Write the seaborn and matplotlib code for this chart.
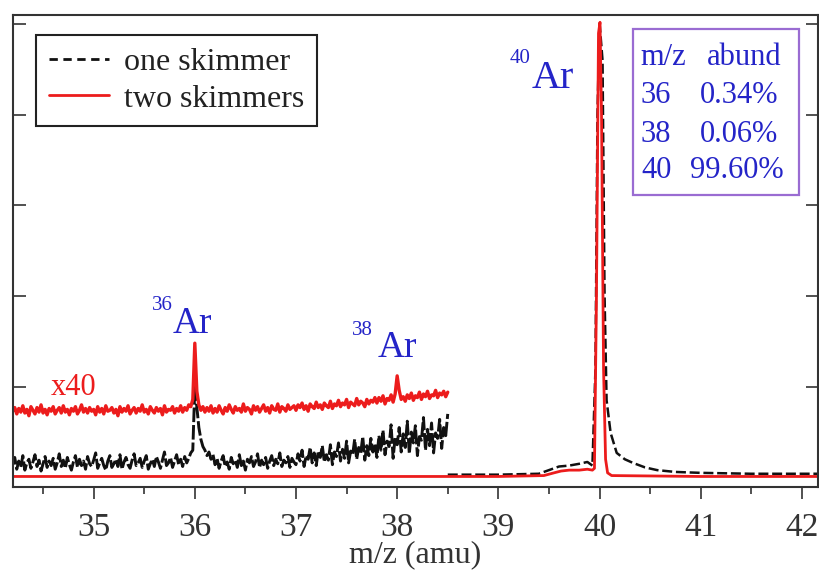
import numpy as np
import pandas as pd
import matplotlib
matplotlib.use("Agg")
import matplotlib.pyplot as plt
import seaborn as sns
from matplotlib.lines import Line2D
from matplotlib.patches import Rectangle

# scaled (x40) part of the spectra, 34.2 .. 38.5 amu, one reading every 0.02 amu,
# values in 1/100 of a y unit
noisy_start = 34.2
noisy_end = 38.5
one_skimmer_x40 = [
    14, 22, 9, 18, 11, 24, 8, 16, 20, 10, 17, 25, 12, 19, 7, 15, 23, 11, 18, 13,
    21, 9, 16, 26, 12, 19, 10, 22, 14, 8, 17, 24, 11, 20, 13, 18, 9, 23, 15, 12,
    19, 27, 10, 16, 21, 13, 8, 18, 24, 11, 15, 20, 12, 25, 9, 17, 22, 14, 10, 19,
    26, 13, 16, 21, 11, 18, 24, 9, 15, 20, 12, 23, 17, 10, 19, 28, 13, 16, 22, 11,
    18, 25, 14, 20, 12, 23, 16, 21, 27, 30,
    100,
    78, 55, 42, 34, 30, 24, 28, 20, 25,
    14, 21, 10, 18, 24, 12, 17, 9, 22, 15, 19, 11, 25, 13, 18, 8, 20, 16, 23, 12,
    17, 26, 11, 19, 14, 22, 10, 18, 24, 13, 20, 15, 27, 12, 19, 16, 23, 11, 21, 17,
    14, 26, 18, 30, 12, 24, 20, 33, 16, 27, 13, 29, 22, 35, 17, 25, 19, 36, 14, 28,
    23, 38, 18, 31, 21, 40, 16, 29, 25, 42, 20, 33, 27, 45, 19, 35, 24, 43, 28, 37,
    22, 46, 30, 52, 25, 40, 34, 58, 21, 44, 36, 55, 28, 48, 33, 62, 26, 50, 38, 57,
    24, 45, 41, 66, 30, 53, 35, 60, 27, 49, 43, 64, 32, 55, 46, 70,
]
two_skimmers_x40 = [
    73, 77, 70, 76, 72, 79, 71, 75, 68, 78, 74, 70, 77, 72, 80, 71, 75, 69, 76, 73,
    78, 70, 74, 77, 71, 79, 72, 75, 69, 76, 73, 78, 70, 74, 80, 72, 76, 71, 77, 73,
    75, 69, 78, 72, 76, 70, 79, 73, 74, 77, 71, 75, 68, 78, 72, 76, 73, 79, 70, 74,
    77, 71, 76, 73, 80, 72, 75, 70, 78, 74, 71, 77, 73, 76, 69, 79, 72, 75, 74, 78,
    71, 76, 73, 79, 72, 77, 74, 80, 78, 86,
    148,
    95, 80, 74, 78, 72, 77, 73, 79, 71,
    76, 72, 79, 74, 70, 77, 73, 80, 75, 71, 78, 74, 76, 72, 81, 73, 77, 75, 70, 79,
    74, 78, 72, 76, 80, 73, 77, 71, 79, 75, 74, 81, 72, 78, 76, 73, 80, 75, 77, 79,
    74, 80, 77, 82, 75, 79, 73, 81, 78, 76, 83, 77, 80, 75, 82, 79, 77, 84, 76, 81,
    79, 85, 78, 82, 80, 86, 77, 83, 81, 79, 87, 80, 84, 82, 78, 86, 81, 85, 83, 88,
    82, 88, 84, 90, 81, 87, 85, 91, 83, 92, 112, 96, 86, 89, 84, 91, 87, 93, 85, 90,
    88, 94, 86, 92, 89, 95, 87, 91, 90, 96, 88, 93, 91, 95, 89, 94,
]

# unscaled spectra
one_mz = [38.5, 39.0, 39.4, 39.5, 39.6, 39.7, 39.8, 39.88, 39.93, 39.96, 39.98, 40.0,
          40.03, 40.05, 40.07, 40.11, 40.17, 40.25, 40.33, 40.45, 40.57, 40.75, 41.0,
          41.5, 42.16]
one_sig = [0.03, 0.03, 0.04, 0.08, 0.12, 0.13, 0.15, 0.17, 0.13, 1.2, 4.0, 5.02,
           4.6, 2.0, 0.85, 0.49, 0.27, 0.2, 0.16, 0.11, 0.08, 0.06, 0.05,
           0.04, 0.04]
two_mz = [34.2, 35.0, 36.0, 37.0, 38.0, 39.0, 39.45, 39.55, 39.62, 39.7, 39.8, 39.88,
          39.93, 39.95, 39.97, 39.99, 40.005, 40.02, 40.04, 40.06, 40.08, 40.12, 41.0,
          42.16]
two_sig = [0.01, 0.01, 0.01, 0.01, 0.01, 0.01, 0.02, 0.05, 0.07, 0.08, 0.08, 0.09,
           0.08, 0.1, 2.0, 4.9, 5.02, 4.0, 1.2, 0.2, 0.05, 0.02, 0.01,
           0.01]

isotopes = ["36", "38", "40"]
abundances = ["0.34%", "0.06%", "99.60%"]

red = "#ec1c1c"
blue = "#2424c8"
purple = "#9a6cd2"

sns.set_style("ticks")
plt.rcParams["font.family"] = ["Liberation Serif", "DejaVu Serif"]

fig = plt.figure(figsize=(8.2, 5.71), dpi=100)
ax = fig.add_axes([0.0155, 0.1476, 0.9821, 0.8261])

x40 = np.linspace(noisy_start, noisy_end, len(one_skimmer_x40))
df_one = pd.DataFrame({"mz": x40, "sig": np.array(one_skimmer_x40) / 100})
x40r = np.linspace(noisy_start, noisy_end, len(two_skimmers_x40))
df_two = pd.DataFrame({"mz": x40r, "sig": np.array(two_skimmers_x40) / 100})

sns.lineplot(data=df_one, x="mz", y="sig", ax=ax, color="#111111", lw=2.1,
             linestyle=(0, (5, 1)), estimator=None, sort=False)
sns.lineplot(x=one_mz, y=one_sig, ax=ax, color="#111111", lw=1.8,
             linestyle=(0, (4, 1.5)), estimator=None, sort=False)
sns.lineplot(data=df_two, x="mz", y="sig", ax=ax, color=red, lw=2.4,
             estimator=None, sort=False)
sns.lineplot(x=two_mz, y=two_sig, ax=ax, color=red, lw=2.0,
             estimator=None, sort=False)

ax.set_xlim(34.2, 42.16)
ax.set_ylim(-0.103, 5.10)
ax.set_xticks(range(35, 43))
ax.set_xticks(np.arange(34.5, 42, 1.0), minor=True)
ax.set_yticks([1, 2, 3, 4, 5])
ax.set_yticklabels([])
ax.set_ylabel("")
ax.tick_params(axis="x", which="major", direction="out", length=8.5, width=1.2,
               labelsize=24, pad=10, colors="#333333", labelcolor="#333333")
ax.tick_params(axis="x", which="minor", direction="out", length=5, width=1.2,
               colors="#333333")
ax.tick_params(axis="y", which="major", direction="in", length=9, width=1.2,
               left=True, right=True, colors="#333333")
for s in ax.spines.values():
    s.set_visible(True)
    s.set_linewidth(1.5)
    s.set_color("#333333")
ax.set_xlabel("m/z (amu)", fontsize=23, color="#333333", labelpad=-2)

# isotope labels
for sup, xs, ys, xa, ya, fs in [("36", 35.778, 1.846, 35.778, 1.592, 27),
                                ("38", 37.763, 1.570, 37.803, 1.327, 27),
                                ("40", 39.315, 4.57, 39.33, 4.30, 29)]:
    ax.text(xs, ys, sup, color=blue, fontsize=15, ha="right", va="baseline")
    ax.text(xa, ya, "Ar", color=blue, fontsize=fs, ha="left", va="baseline")

ax.text(34.573, 0.908, "x40", color=red, fontsize=22, ha="left", va="baseline")

# abundance table
ax.add_patch(Rectangle((40.33, 3.114), 1.64, 1.83, fill=False, ec=purple, lw=1.6))
ax.text(40.409, 4.548, "m/z", color=blue, fontsize=22, va="baseline")
ax.text(41.064, 4.548, "abund", color=blue, fontsize=22, va="baseline")
for iso, ab, yb, xl in zip(isotopes, abundances, [4.128, 3.698, 3.301],
                           [40.995, 40.995, 40.896]):
    ax.text(40.409, yb, iso, color=blue, fontsize=22, va="baseline")
    ax.text(xl, yb, ab, color=blue, fontsize=22, va="baseline")

handles = [Line2D([], [], color="#111111", lw=2, linestyle=(0, (3, 2))),
           Line2D([], [], color=red, lw=2)]
leg = ax.legend(handles, ["one skimmer", "two skimmers"], loc="upper left",
                bbox_to_anchor=(0.0289, 0.9576), borderaxespad=0, fontsize=23,
                frameon=True, fancybox=False, framealpha=1, handlelength=1.9,
                handletextpad=0.45, labelspacing=0.22, borderpad=0.4)
leg.get_frame().set_edgecolor("#222222")
leg.get_frame().set_linewidth(1.5)
for t in leg.get_texts():
    t.set_color("#222222")

fig.savefig("out.png", dpi=100)
